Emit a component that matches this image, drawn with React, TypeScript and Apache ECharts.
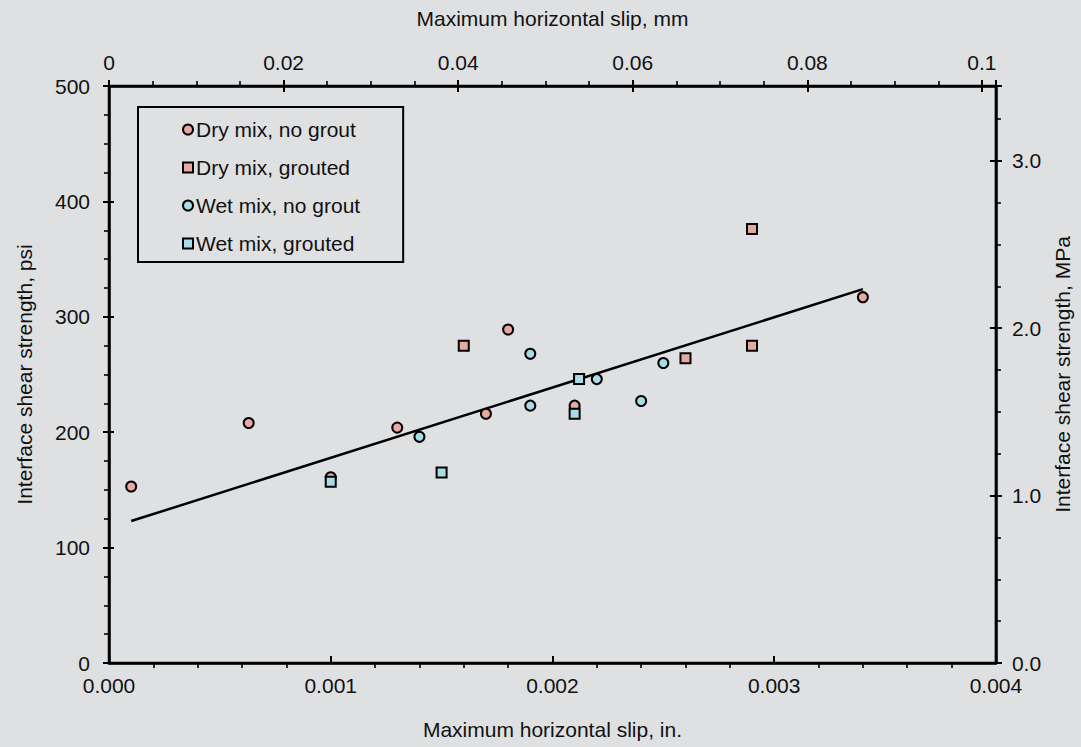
import React, { useEffect, useRef } from "react";
import * as echarts from "echarts";

const dryNoGrout: [number, number][] = [
  [0.0001, 153], [0.00063, 208], [0.001, 161], [0.0013, 204],
  [0.0017, 216], [0.0018, 289], [0.0021, 223], [0.0034, 317],
];
const dryGrouted: [number, number][] = [
  [0.0016, 275], [0.0026, 264], [0.0029, 275], [0.0029, 376],
];
const wetNoGrout: [number, number][] = [
  [0.0014, 196], [0.0019, 268], [0.0019, 223], [0.0022, 246],
  [0.0024, 227], [0.0025, 260],
];
const wetGrouted: [number, number][] = [
  [0.001, 157], [0.0015, 165], [0.00212, 246], [0.0021, 216],
];
const fitLine: [number, number][] = [[0.0001, 123], [0.0034, 324]];

const seriesNames = ["Dry mix, no grout", "Dry mix, grouted", "Wet mix, no grout", "Wet mix, grouted"];

const PINK = "#E9A9A2";
const BLUE = "#A8DCE6";
const FONT = "'Liberation Sans', Arial, Helvetica, sans-serif";
const TXT = "#111";
const FS = 21;

export default function App() {
  const ref = useRef<HTMLDivElement>(null);
  useEffect(() => {
    if (!ref.current) return;
    const chart = echarts.init(ref.current, undefined, { renderer: "svg" });
    const mkLine = () => ({ show: true, onZero: false, lineStyle: { color: "#000", width: 2.5 } });
    const mkTick = (show = true) => ({ show, length: 6, lineStyle: { color: "#000", width: 2 } });
    const mkMinor = (splitNumber: number) => ({
      show: true, splitNumber, length: 5, lineStyle: { color: "#000", width: 1.6 },
    });
    const label = { color: TXT, fontSize: FS, fontFamily: FONT };
    const nameStyle = { color: TXT, fontSize: FS, fontFamily: FONT };
    const scatter = (name: string, data: [number, number][], symbol: string, color: string) => ({
      type: "scatter",
      name,
      data,
      symbol,
      symbolSize: 10,
      itemStyle: { color, borderColor: "#000", borderWidth: 2, opacity: 1 },
      z: 3,
    });
    const insideCopy = (base: any, len: number) => ({
      type: "value",
      position: base.position,
      min: base.min,
      max: base.max,
      interval: base.interval,
      axisLine: { show: false, onZero: false },
      axisTick: { show: true, inside: true, length: len, lineStyle: { color: "#000", width: 2 } },
      minorTick: { show: false },
      splitLine: { show: false },
      axisLabel: { show: false },
    });
    const xBottom = {
      type: "value",
      position: "bottom",
      min: 0,
      max: 0.004,
      interval: 0.001,
      name: "Maximum horizontal slip, in.",
      nameLocation: "middle",
      nameGap: 56,
      nameTextStyle: nameStyle,
      axisLine: mkLine(),
      axisTick: mkTick(false),
      minorTick: mkMinor(5),
      splitLine: { show: false },
      axisLabel: { ...label, margin: 12, formatter: (v: number) => v.toFixed(3) },
    };
    const xTop = {
      type: "value",
      position: "top",
      min: 0,
      max: 0.1016,
      interval: 0.02,
      name: "Maximum horizontal slip, mm",
      nameLocation: "middle",
      nameGap: 57,
      nameTextStyle: nameStyle,
      axisLine: mkLine(),
      axisTick: mkTick(),
      minorTick: mkMinor(4),
      splitLine: { show: false },
      axisLabel: {
        ...label,
        margin: 13,
        showMaxLabel: false,
        formatter: (v: number) => String(parseFloat(v.toFixed(3))),
      },
    };
    const yLeft = {
      type: "value",
      position: "left",
      min: 0,
      max: 500,
      interval: 100,
      name: "Interface shear strength, psi",
      nameLocation: "middle",
      nameGap: 74,
      nameTextStyle: nameStyle,
      axisLine: mkLine(),
      axisTick: mkTick(),
      minorTick: mkMinor(4),
      splitLine: { show: false },
      axisLabel: { ...label, margin: 19 },
    };
    const yRight = {
      type: "value",
      position: "right",
      min: 0,
      max: 3.447,
      interval: 1,
      name: "Interface shear strength, MPa",
      nameLocation: "middle",
      nameGap: 56,
      nameTextStyle: nameStyle,
      axisLine: mkLine(),
      axisTick: mkTick(),
      minorTick: mkMinor(4),
      splitLine: { show: false },
      axisLabel: { ...label, margin: 16, showMaxLabel: false, formatter: (v: number) => v.toFixed(1) },
    };
    chart.setOption({
      animation: false,
      backgroundColor: "#DFE0E2",
      textStyle: { fontFamily: FONT },
      grid: {
        left: 109, right: 80, top: 86, bottom: 84, containLabel: false,
        show: true, borderColor: "#000", borderWidth: 2.5, backgroundColor: "transparent",
      },
      legend: {
        data: seriesNames.map((n) => ({ name: n })),
        orient: "vertical",
        left: 138,
        top: 107,
        padding: [12, 43, 8, 44],
        itemGap: 17,
        itemWidth: 10,
        itemHeight: 10,
        backgroundColor: "#DFE0E2",
        borderColor: "#000",
        borderWidth: 2,
        textStyle: { color: TXT, fontSize: FS, fontFamily: FONT, padding: [0, 0, 0, -2] },
      },
      xAxis: [xBottom, xTop, insideCopy(xBottom, 7), insideCopy(xTop, 6)],
      yAxis: [yLeft, yRight, insideCopy(yLeft, 5), insideCopy(yRight, 6)],
      series: [
        {
          type: "line",
          name: "fit",
          data: fitLine,
          symbol: "none",
          lineStyle: { color: "#000", width: 2.5 },
          z: 2,
          silent: true,
        },
        scatter(seriesNames[0], dryNoGrout, "circle", PINK),
        scatter(seriesNames[1], dryGrouted, "rect", PINK),
        scatter(seriesNames[2], wetNoGrout, "circle", BLUE),
        scatter(seriesNames[3], wetGrouted, "rect", BLUE),
      ],
    });
    return () => chart.dispose();
  }, []);
  return (
    <div
      ref={ref}
      style={{ position: "fixed", left: 0, top: 0, width: 1081, height: 747 }}
    />
  );
}
